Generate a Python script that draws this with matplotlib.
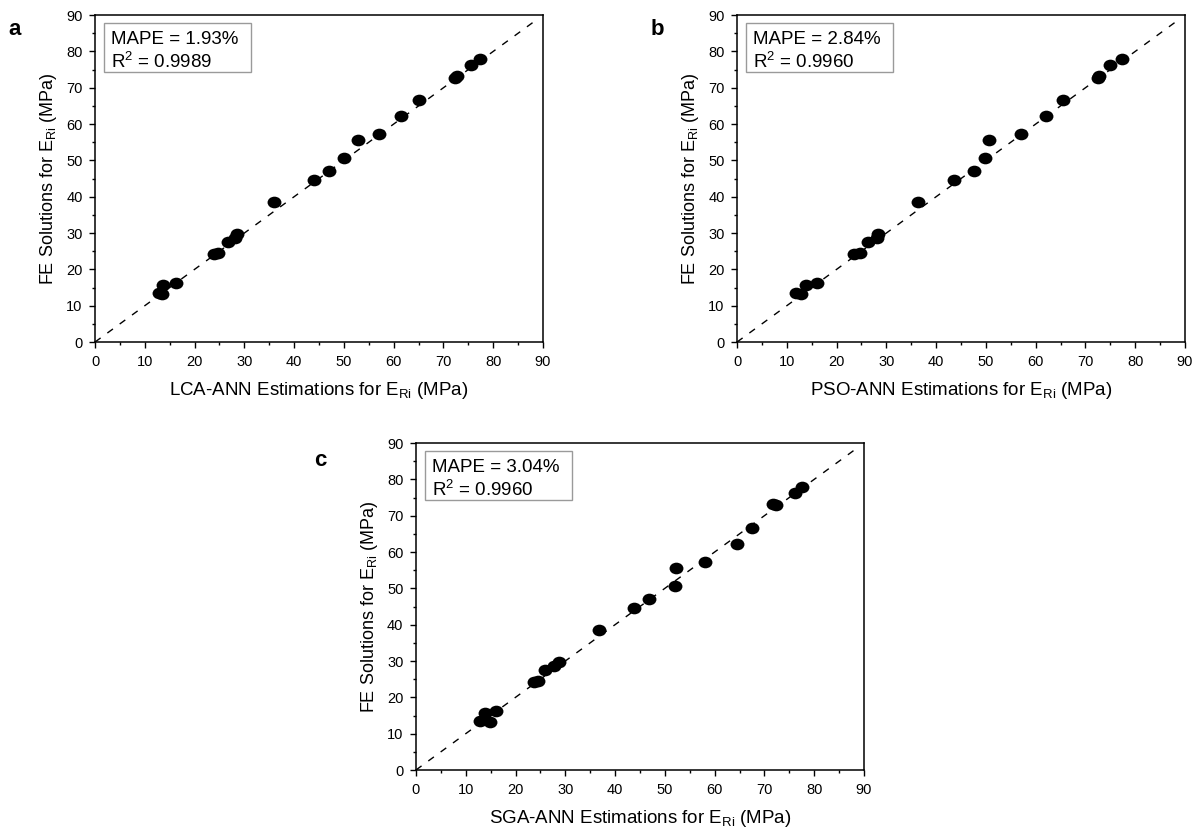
import numpy as np
import matplotlib
matplotlib.use('Agg')
import matplotlib.pyplot as plt
from matplotlib.path import Path
from matplotlib.patches import Rectangle
from matplotlib.ticker import MultipleLocator

plt.rcParams['font.family'] = ['Liberation Sans', 'DejaVu Sans']
plt.rcParams['mathtext.fontset'] = 'custom'
plt.rcParams['mathtext.rm'] = 'Liberation Sans'
plt.rcParams['mathtext.it'] = 'Liberation Sans'
plt.rcParams['mathtext.bf'] = 'Liberation Sans:bold'

# ── FE solutions (common y values) and the three ANN estimations ─────────────
fe_solutions = [13.3, 13.6, 15.7, 16.2, 24.3, 24.5, 27.5, 28.5, 29.7, 38.5, 44.6,
                47.2, 50.7, 55.6, 57.3, 62.1, 66.7, 72.8, 73.2, 76.2, 77.8]

lca_ann = [13.5, 12.9, 13.7, 16.2, 23.9, 24.8, 26.8, 28.2, 28.5, 35.9, 43.9,
           47.1, 50.1, 52.9, 57.1, 61.4, 65.1, 72.4, 72.8, 75.6, 77.3]
pso_ann = [12.9, 11.9, 13.8, 16.1, 23.4, 24.8, 26.3, 28.2, 28.4, 36.4, 43.5,
           47.6, 49.9, 50.7, 57.0, 62.0, 65.4, 72.5, 72.7, 75.0, 77.4]
sga_ann = [14.9, 12.9, 13.9, 16.1, 23.8, 24.6, 25.9, 27.7, 28.8, 36.7, 43.9,
           46.9, 52.0, 52.2, 58.1, 64.4, 67.5, 72.3, 71.8, 76.2, 77.5]

models = ['LCA', 'PSO', 'SGA']
mape = [1.93, 2.84, 3.04]
r2 = ['0.9989', '0.9960', '0.9960']
letters = ['a', 'b', 'c']
estimations = [lca_ann, pso_ann, sga_ann]

# elliptical marker, a bit wider than tall
circ = Path.unit_circle()
ellipse = Path(circ.vertices * np.array([1.0, 0.84]), circ.codes)

fig = plt.figure(figsize=(11.98, 8.31), dpi=100, facecolor='white')

# axes rectangles [left, bottom, width, height] in figure fraction
rects = [
    [0.0793, 0.5884, 0.3740, 0.3935],
    [0.6152, 0.5884, 0.3740, 0.3935],
    [0.3472, 0.0734, 0.3740, 0.3935],
]
letter_pos = [(0.007, 0.977), (0.543, 0.977), (0.262, 0.458)]

for k in range(3):
    ax = fig.add_axes(rects[k])
    ax.plot([0, 88], [0, 88], color='black', lw=1.0, dashes=(5, 6))
    ax.plot(estimations[k], fe_solutions, linestyle='none', marker=ellipse,
            markersize=10, color='black', markeredgewidth=0)

    ax.set_xlim(0, 90)
    ax.set_ylim(0, 90)
    for axis in (ax.xaxis, ax.yaxis):
        axis.set_major_locator(MultipleLocator(10))
        axis.set_minor_locator(MultipleLocator(5))
    ax.tick_params(which='both', direction='out', top=False, right=False,
                   width=1.0, labelsize=10.5, pad=5)
    ax.tick_params(which='major', length=4)
    ax.tick_params(which='minor', length=2.5)
    for s in ax.spines.values():
        s.set_linewidth(1.1)

    ax.set_xlabel(f'{models[k]}-ANN Estimations for E$_{{\\mathrm{{Ri}}}}$ (MPa)',
                  fontsize=13.5, labelpad=8)
    ax.set_ylabel('FE Solutions for E$_{\\mathrm{Ri}}$ (MPa)', fontsize=13,
                  labelpad=5)

    # statistics box
    ax.add_patch(Rectangle((0.020, 0.826), 0.328, 0.1495, transform=ax.transAxes,
                           facecolor='white', edgecolor='#9a9a9a', lw=1.0,
                           zorder=3))
    ax.text(0.035, 0.911, f'MAPE = {mape[k]:.2f}%', transform=ax.transAxes,
            fontsize=13.5, va='baseline', ha='left', zorder=4)
    ax.text(0.035, 0.838, f'R$^{{2}}$ = {r2[k]}', transform=ax.transAxes,
            fontsize=13.5, va='baseline', ha='left', zorder=4)

    fig.text(letter_pos[k][0], letter_pos[k][1], letters[k], fontsize=16,
             fontweight='bold', va='top', ha='left')

fig.savefig('out.png', dpi=100, facecolor='white')
plt.close(fig)
